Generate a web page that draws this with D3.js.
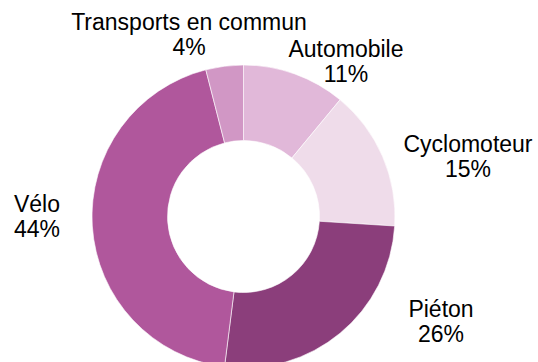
<!DOCTYPE html>
<html>
<head>
<meta charset="utf-8">
<script src="https://cdn.jsdelivr.net/npm/d3@7"></script>
<style>
  html, body { margin: 0; padding: 0; background: #fff; }
  svg { display: block; }
  text { font-family: "Liberation Sans", Arial, sans-serif; fill: #000; }
</style>
</head>
<body>
<svg id="chart" width="538" height="362"></svg>
<script>
// Modal split of trips
const categories = ["Automobile", "Cyclomoteur", "Piéton", "Vélo", "Transports en commun"];
const shares = [11, 15, 26, 44, 4];
const colors = ["#e1b8d9", "#efdcea", "#8b3e7b", "#b0579c", "#d197c5"];

// Label anchor points (text centre x, first-line baseline y)
const labelPos = [[346, 57], [468, 152], [441, 317], [37, 212], [189, 30]];

const W = 538, H = 362;
const cx = 243.5, cy = 216.5;
const outerR = 151.5, innerR = 76;

const svg = d3.select("#chart");
const g = svg.append("g").attr("transform", `translate(${cx},${cy})`);

const pie = d3.pie().sort(null).value(d => d.value);
const arc = d3.arc().innerRadius(innerR).outerRadius(outerR);

const data = categories.map((c, i) => ({ name: c, value: shares[i], color: colors[i] }));

g.selectAll("path")
  .data(pie(data))
  .join("path")
  .attr("d", arc)
  .attr("fill", d => d.data.color)
  .attr("stroke", "#fff")
  .attr("stroke-width", 0.6);

const labels = svg.append("g")
  .selectAll("text")
  .data(data)
  .join("text")
  .attr("text-anchor", "middle")
  .attr("font-size", 23)
  .attr("x", (d, i) => labelPos[i][0])
  .attr("y", (d, i) => labelPos[i][1]);

labels.append("tspan")
  .attr("x", (d, i) => labelPos[i][0])
  .text(d => d.name);
labels.append("tspan")
  .attr("x", (d, i) => labelPos[i][0])
  .attr("dy", 24.5)
  .text(d => d.value + "%");
</script>
</body>
</html>
